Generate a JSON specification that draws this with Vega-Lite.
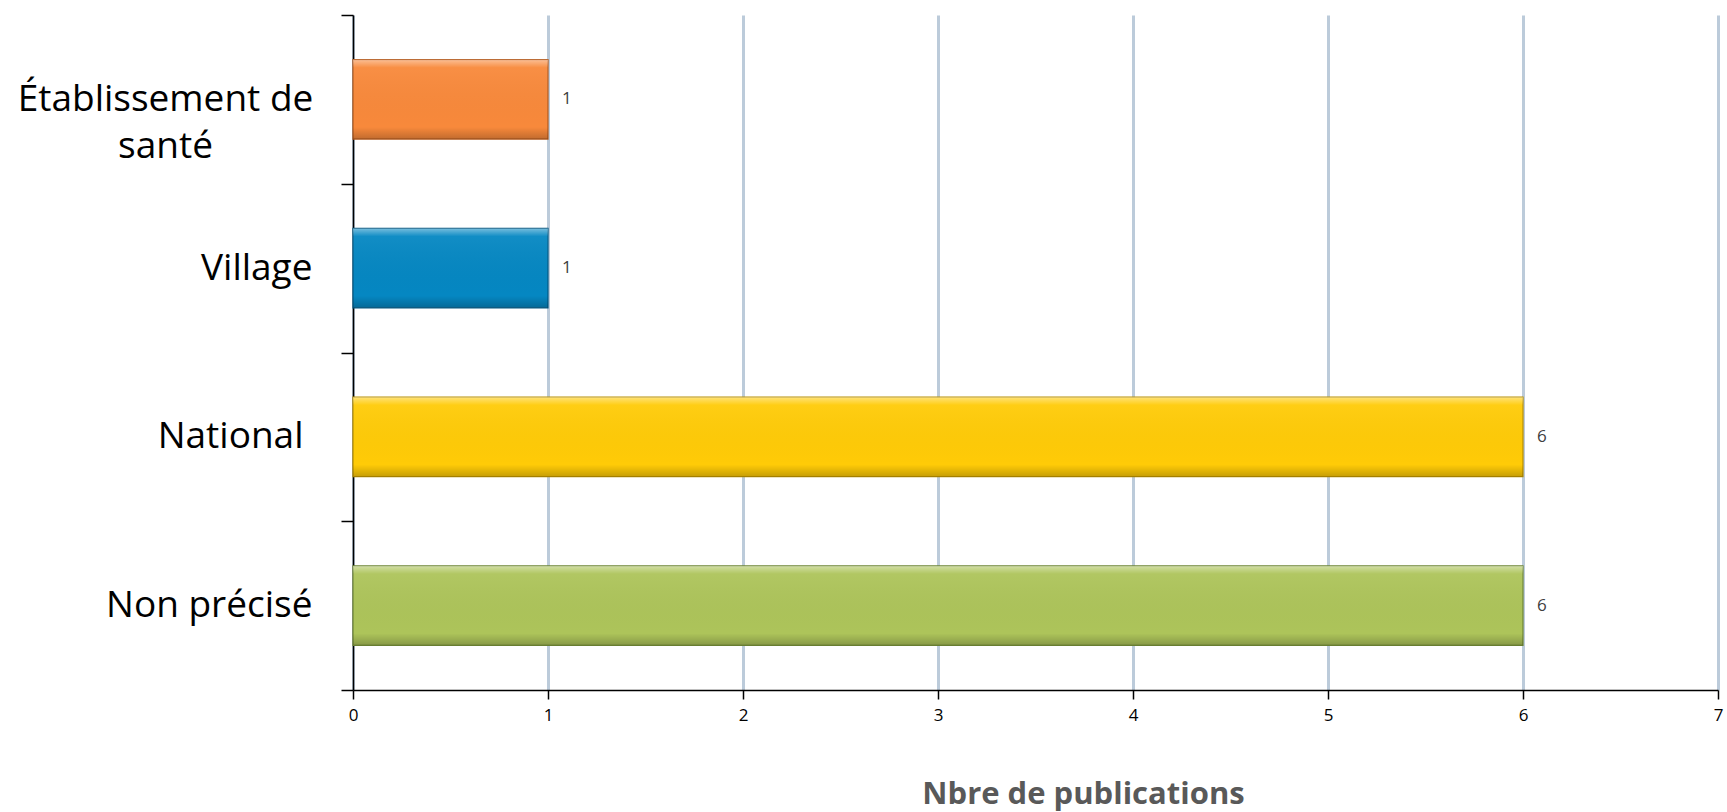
{
  "$schema": "https://vega.github.io/schema/vega-lite/v6.json",
  "width": 1365,
  "height": 675,
  "autosize": "none",
  "padding": {"left": 353, "top": 15, "right": 9, "bottom": 122},
  "background": "white",
  "config": {"view": {"stroke": null}},
  "data": {"values": [
    {"cat": "Établissement de santé", "n": 1},
    {"cat": "Village", "n": 1},
    {"cat": "National", "n": 6},
    {"cat": "Non précisé", "n": 6}
  ]},
  "encoding": {
    "y": {
      "field": "cat", "type": "nominal", "sort": null,
      "scale": {"paddingInner": 0, "paddingOuter": 0},
      "axis": {
        "title": null,
        "grid": false,
        "domainColor": "black", "domainWidth": 1.5,
        "tickColor": "black", "tickWidth": 1.5, "tickSize": 12,
        "tickBand": "extent",
        "labelFont": "Open Sans", "labelFontSize": 37, "labelColor": "black",
        "labelBaseline": "middle", "labelLimit": 500, "labelLineHeight": 47,
        "labelAlign": {"condition": {"test": "datum.value === 'Établissement de santé'", "value": "center"}, "value": "right"},
        "labelPadding": {"condition": [
          {"test": "datum.value === 'Établissement de santé'", "value": 176},
          {"test": "datum.value === 'National'", "value": 38}
        ], "value": 29},
        "labelExpr": "datum.value === 'Établissement de santé' ? ['Établissement de', 'santé'] : datum.label"
      }
    },
    "x": {
      "field": "n", "type": "quantitative",
      "scale": {"domain": [0, 7], "nice": false},
      "axis": {
        "title": "Nbre de publications",
        "titleFont": "Open Sans", "titleFontSize": 31, "titleFontWeight": "bold", "titleColor": "#595959",
        "titleBaseline": "alphabetic", "titleY": 113, "titleX": 730,
        "values": [0, 1, 2, 3, 4, 5, 6, 7], "format": "d",
        "grid": true, "gridColor": "#BCCBDA", "gridWidth": 3,
        "domainColor": "black", "domainWidth": 1.5,
        "tickColor": "black", "tickWidth": 1.5, "tickSize": 9,
        "labelFont": "Open Sans", "labelFontSize": 17, "labelColor": "black",
        "labelPadding": 8, "labelFlush": false
      }
    }
  },
  "layer": [
    {
      "mark": {"type": "bar", "height": {"band": 0.47}, "strokeWidth": 1.2},
      "encoding": {
        "color": {"field": "cat", "type": "nominal", "legend": null,
          "scale": {"domain": ["Établissement de santé", "Village", "National", "Non précisé"],
                    "range": ["#F8893B", "#0587C2", "#FFCB07", "#ADC45A"]}},
        "stroke": {"field": "cat", "type": "nominal", "legend": null,
          "scale": {"domain": ["Établissement de santé", "Village", "National", "Non précisé"],
                    "range": ["#B35A1E", "#035A85", "#B88F00", "#6E8534"]}}
      }
    },
    {
      "mark": {
        "type": "bar", "height": {"band": 0.47},
        "color": {
          "gradient": "linear", "x1": 0, "y1": 0, "x2": 0, "y2": 1,
          "stops": [
            {"offset": 0, "color": "rgba(255,255,255,0.45)"},
            {"offset": 0.1, "color": "rgba(255,255,255,0.05)"},
            {"offset": 0.85, "color": "rgba(0,0,0,0)"},
            {"offset": 1, "color": "rgba(0,0,0,0.22)"}
          ]
        }
      },
      "encoding": {}
    },
    {
      "mark": {"type": "text", "align": "left", "baseline": "middle", "dx": 14, "fontSize": 17, "font": "Open Sans", "color": "#404040"},
      "encoding": {"text": {"field": "n", "type": "quantitative"}}
    }
  ]
}
